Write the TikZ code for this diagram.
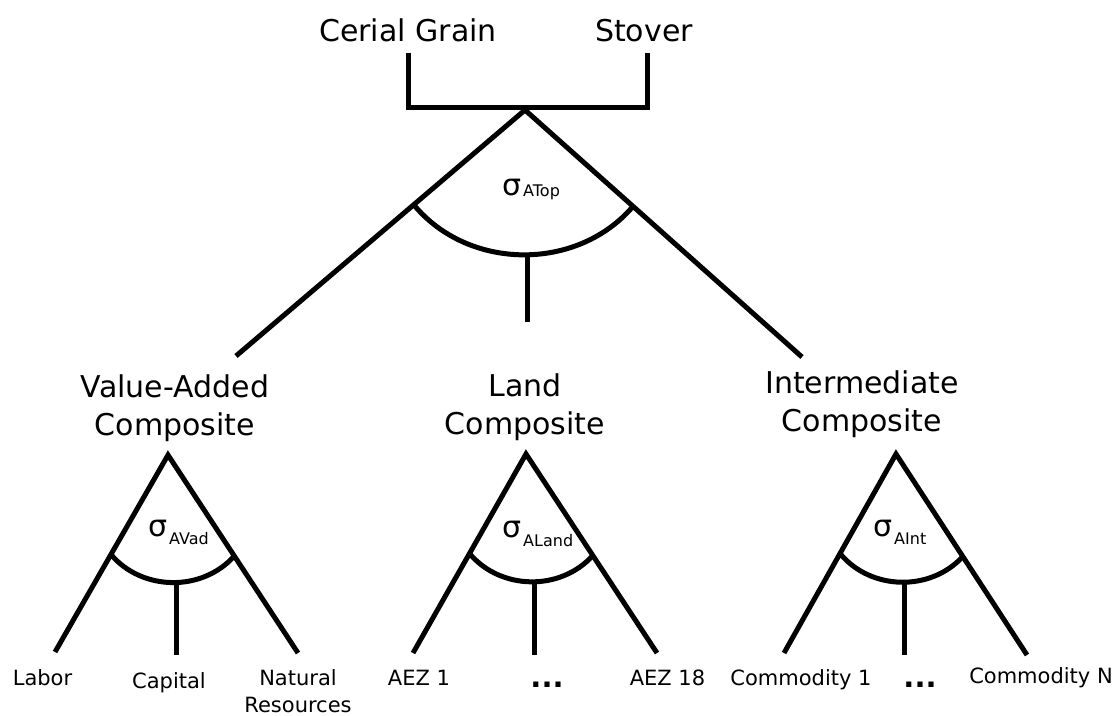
\documentclass[tikz,border=0pt]{standalone}
\usepackage{fontspec}
\setmainfont{DejaVu Sans}
\usetikzlibrary{calc}
\begin{document}
\begin{tikzpicture}[x=1pt,y=1pt,
  edge/.style={line width=5pt},
  big/.style={font=\fontsize{30}{38}\selectfont, inner sep=0pt, align=center, anchor=base},
  small/.style={font=\fontsize{21}{27}\selectfont, inner sep=0pt, align=center, anchor=base},
  dots/.style={font=\fontsize{29}{30}\selectfont\bfseries, inner sep=0pt, anchor=base},
  sig/.style={inner sep=0pt, anchor=base west, font=\fontsize{30}{36}\selectfont}]
\useasboundingbox (0,0) rectangle (1118,-715);

% top outputs and bracket
\node[big] (cg) at (408,-41) {Cerial Grain};
\node[big] (st) at (644,-41) {Stover};
\coordinate (cgB) at (408,-53);
\coordinate (cgC) at (408,-107);
\coordinate (stB) at (647,-53);
\coordinate (stC) at (647,-107);
\draw[edge] (cgB) -- (cgC) -- (stC) -- (stB);

% top nest
\coordinate (top) at (525,-110);
\coordinate (topL) at (236,-356);
\coordinate (topR) at (802,-357);
\coordinate (topMB) at (527,-322);
\draw[edge] (topL) -- (top) -- (topR);
\draw[edge] ($(top)!0.385!(topL)$) to[bend right=50] coordinate[pos=0.52] (topM) ($(top)!0.39!(topR)$);
\draw[edge] (topM) -- (topM |- topMB);
\node[sig] (sTop) at (502,-195) {σ\kern2pt\raisebox{-1pt}{\fontsize{16}{16}\selectfont ATop}};

% composites
\node[big] (va) at (175,-435) {Value-Added\\Composite};
\node[big] (la) at (525,-434) {Land\\Composite};
\node[big] (in) at (862,-431) {Intermediate\\Composite};

% value-added nest
\coordinate (vaA) at (168,-455);
\coordinate (vaL) at (55,-652);
\coordinate (vaR) at (298,-653);
\coordinate (vaMB) at (178,-655);
\draw[edge] (vaL) -- (vaA) -- (vaR);
\draw[edge] ($(vaA)!0.505!(vaL)$) to[bend right=49] coordinate[pos=0.53] (vaM) ($(vaA)!0.51!(vaR)$);
\draw[edge] (vaM) -- (vaM |- vaMB);
\node[sig] (sVad) at (148,-536) {σ\kern2pt\raisebox{-8pt}{\fontsize{16}{16}\selectfont AVad}};

% land nest
\coordinate (laA) at (526,-454);
\coordinate (laL) at (413,-653);
\coordinate (laR) at (657,-653);
\coordinate (laMB) at (536,-655);
\draw[edge] (laL) -- (laA) -- (laR);
\draw[edge] ($(laA)!0.5!(laL)$) to[bend right=49] coordinate[pos=0.53] (laM) ($(laA)!0.51!(laR)$);
\draw[edge] (laM) -- (laM |- laMB);
\node[sig] (sLand) at (502,-537) {σ\kern2pt\raisebox{-9pt}{\fontsize{16}{16}\selectfont ALand}};

% intermediate nest
\coordinate (inA) at (896,-454);
\coordinate (inL) at (784,-653);
\coordinate (inR) at (1027,-655);
\coordinate (inMB) at (906,-655);
\draw[edge] (inL) -- (inA) -- (inR);
\draw[edge] ($(inA)!0.5!(inL)$) to[bend right=49] coordinate[pos=0.53] (inM) ($(inA)!0.51!(inR)$);
\draw[edge] (inM) -- (inM |- inMB);
\node[sig] (sInt) at (873,-536) {σ\kern2pt\raisebox{-8pt}{\fontsize{16}{16}\selectfont AInt}};

% leaves
\node[small] (labor) at (42.5,-685) {Labor};
\node[small] (capital) at (169,-688) {Capital};
\node[small] (natres) at (298,-712) {Natural\\Resources};
\node[small] (aez1) at (419,-685) {AEZ 1};
\node[dots] (ladots) at (547,-687) {...};
\node[small] (aez18) at (667.5,-685) {AEZ 18};
\node[small] (com1) at (801,-685) {Commodity 1};
\node[dots] (indots) at (920,-687) {...};
\node[small] (comN) at (1041,-683) {Commodity N};
\end{tikzpicture}
\end{document}
